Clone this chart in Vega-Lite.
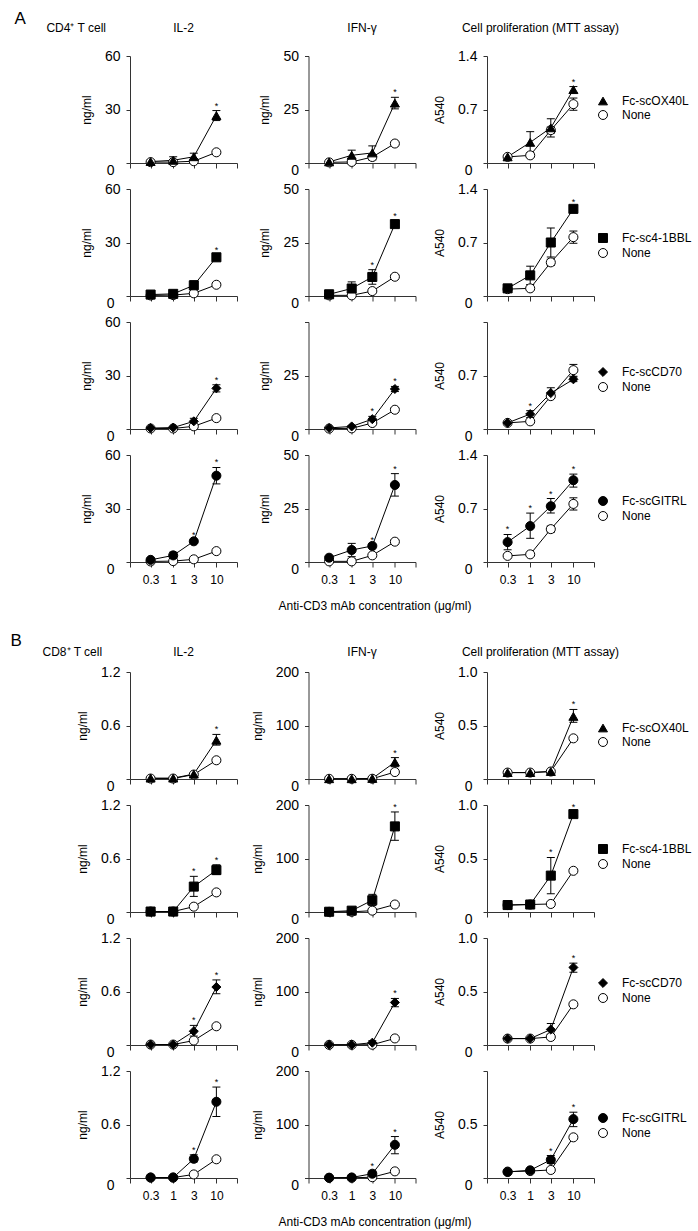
{
"$schema":"https://vega.github.io/schema/vega-lite/v6.json",
"background":"white",
"padding":{"left":10,"top":10,"right":5,"bottom":5},
"config":{
 "font":"Liberation Sans",
 "view":{"stroke":null},
 "axis":{"grid":false,"domainColor":"#333","tickColor":"#333","labelColor":"#000","titleColor":"#000","labelFont":"Liberation Sans","titleFont":"Liberation Sans","titleFontWeight":"normal","domainWidth":1,"tickWidth":1},
 "axisY":{"tickSize":4,"labelFontSize":14,"titleFontSize":12,"labelPadding":6,"titlePadding":11},
 "axisX":{"tickSize":5,"labelFontSize":12,"titleFontSize":12,"labelPadding":7,"titlePadding":15},
 "title":{"font":"Liberation Sans","fontWeight":"normal","fontSize":12,"color":"#000"},
 "legend":{"labelFont":"Liberation Sans","labelFontSize":12,"labelColor":"#000"},
 "point":{"size":82,"filled":true,"strokeWidth":1,"opacity":1},
 "text":{"fontSize":9,"dy":-2,"baseline":"alphabetic","fill":"black","text":"*"}
},
"datasets":{"d":[
{"sec":"A","assay":"IL2","lig":"OX40L","series":"None","conc":0.3,"mean":0.5,"lo":0.2,"hi":0.8},
{"sec":"A","assay":"IL2","lig":"OX40L","series":"None","conc":1,"mean":0.5,"lo":0.2,"hi":0.8},
{"sec":"A","assay":"IL2","lig":"OX40L","series":"None","conc":3,"mean":1,"lo":0.6,"hi":1.4},
{"sec":"A","assay":"IL2","lig":"OX40L","series":"None","conc":10,"mean":6,"lo":5.5,"hi":6.5},
{"sec":"A","assay":"IL2","lig":"OX40L","series":"Fc-scOX40L","conc":0.3,"mean":0.8,"lo":0.4,"hi":1.2},
{"sec":"A","assay":"IL2","lig":"OX40L","series":"Fc-scOX40L","conc":1,"mean":1.5,"lo":0,"hi":3.5},
{"sec":"A","assay":"IL2","lig":"OX40L","series":"Fc-scOX40L","conc":3,"mean":3.5,"lo":1.5,"hi":5.5},
{"sec":"A","assay":"IL2","lig":"OX40L","series":"Fc-scOX40L","conc":10,"mean":26.6,"lo":23.8,"hi":29.4,"sig":1},
{"sec":"A","assay":"IFN","lig":"OX40L","series":"None","conc":0.3,"mean":0.3,"lo":0,"hi":0.6},
{"sec":"A","assay":"IFN","lig":"OX40L","series":"None","conc":1,"mean":0.5,"lo":0,"hi":1},
{"sec":"A","assay":"IFN","lig":"OX40L","series":"None","conc":3,"mean":2.8,"lo":2.3,"hi":3.3},
{"sec":"A","assay":"IFN","lig":"OX40L","series":"None","conc":10,"mean":9.1,"lo":8,"hi":10.2},
{"sec":"A","assay":"IFN","lig":"OX40L","series":"Fc-scOX40L","conc":0.3,"mean":0.5,"lo":0.2,"hi":0.8},
{"sec":"A","assay":"IFN","lig":"OX40L","series":"Fc-scOX40L","conc":1,"mean":3.6,"lo":1.2,"hi":6},
{"sec":"A","assay":"IFN","lig":"OX40L","series":"Fc-scOX40L","conc":3,"mean":4.7,"lo":1.4,"hi":8},
{"sec":"A","assay":"IFN","lig":"OX40L","series":"Fc-scOX40L","conc":10,"mean":28,"lo":25.3,"hi":30.7,"sig":1},
{"sec":"A","assay":"MTT","lig":"OX40L","series":"None","conc":0.3,"mean":0.08,"lo":0.07,"hi":0.09},
{"sec":"A","assay":"MTT","lig":"OX40L","series":"None","conc":1,"mean":0.1,"lo":0.07,"hi":0.13},
{"sec":"A","assay":"MTT","lig":"OX40L","series":"None","conc":3,"mean":0.43,"lo":0.39,"hi":0.47},
{"sec":"A","assay":"MTT","lig":"OX40L","series":"None","conc":10,"mean":0.77,"lo":0.69,"hi":0.85},
{"sec":"A","assay":"MTT","lig":"OX40L","series":"Fc-scOX40L","conc":0.3,"mean":0.08,"lo":0.07,"hi":0.09},
{"sec":"A","assay":"MTT","lig":"OX40L","series":"Fc-scOX40L","conc":1,"mean":0.27,"lo":0.13,"hi":0.41},
{"sec":"A","assay":"MTT","lig":"OX40L","series":"Fc-scOX40L","conc":3,"mean":0.46,"lo":0.34,"hi":0.58},
{"sec":"A","assay":"MTT","lig":"OX40L","series":"Fc-scOX40L","conc":10,"mean":0.96,"lo":0.92,"hi":1.0,"sig":1},
{"sec":"A","assay":"IL2","lig":"41BB","series":"None","conc":0.3,"mean":0.3,"lo":0.1,"hi":0.5},
{"sec":"A","assay":"IL2","lig":"41BB","series":"None","conc":1,"mean":0.5,"lo":0.2,"hi":0.8},
{"sec":"A","assay":"IL2","lig":"41BB","series":"None","conc":3,"mean":1.5,"lo":1.2,"hi":1.8},
{"sec":"A","assay":"IL2","lig":"41BB","series":"None","conc":10,"mean":6.3,"lo":5.9,"hi":6.7},
{"sec":"A","assay":"IL2","lig":"41BB","series":"Fc-sc4-1BBL","conc":0.3,"mean":0.8,"lo":0.5,"hi":1.1},
{"sec":"A","assay":"IL2","lig":"41BB","series":"Fc-sc4-1BBL","conc":1,"mean":1.2,"lo":0.4,"hi":2},
{"sec":"A","assay":"IL2","lig":"41BB","series":"Fc-sc4-1BBL","conc":3,"mean":6,"lo":3.5,"hi":8.5},
{"sec":"A","assay":"IL2","lig":"41BB","series":"Fc-sc4-1BBL","conc":10,"mean":21.7,"lo":20.4,"hi":23,"sig":1},
{"sec":"A","assay":"IFN","lig":"41BB","series":"None","conc":0.3,"mean":0.3,"lo":0,"hi":0.6},
{"sec":"A","assay":"IFN","lig":"41BB","series":"None","conc":1,"mean":0.3,"lo":0,"hi":0.6},
{"sec":"A","assay":"IFN","lig":"41BB","series":"None","conc":3,"mean":2.3,"lo":1.9,"hi":2.7},
{"sec":"A","assay":"IFN","lig":"41BB","series":"None","conc":10,"mean":9,"lo":8,"hi":10},
{"sec":"A","assay":"IFN","lig":"41BB","series":"Fc-sc4-1BBL","conc":0.3,"mean":0.8,"lo":0.5,"hi":1.1},
{"sec":"A","assay":"IFN","lig":"41BB","series":"Fc-sc4-1BBL","conc":1,"mean":3.5,"lo":0.4,"hi":6.6},
{"sec":"A","assay":"IFN","lig":"41BB","series":"Fc-sc4-1BBL","conc":3,"mean":8.9,"lo":5.5,"hi":12.3,"sig":1},
{"sec":"A","assay":"IFN","lig":"41BB","series":"Fc-sc4-1BBL","conc":10,"mean":33.6,"lo":32.1,"hi":35.1,"sig":1},
{"sec":"A","assay":"MTT","lig":"41BB","series":"None","conc":0.3,"mean":0.09,"lo":0.08,"hi":0.1},
{"sec":"A","assay":"MTT","lig":"41BB","series":"None","conc":1,"mean":0.1,"lo":0.08,"hi":0.12},
{"sec":"A","assay":"MTT","lig":"41BB","series":"None","conc":3,"mean":0.44,"lo":0.4,"hi":0.48},
{"sec":"A","assay":"MTT","lig":"41BB","series":"None","conc":10,"mean":0.77,"lo":0.69,"hi":0.85},
{"sec":"A","assay":"MTT","lig":"41BB","series":"Fc-sc4-1BBL","conc":0.3,"mean":0.1,"lo":0.07,"hi":0.13},
{"sec":"A","assay":"MTT","lig":"41BB","series":"Fc-sc4-1BBL","conc":1,"mean":0.27,"lo":0.15,"hi":0.39},
{"sec":"A","assay":"MTT","lig":"41BB","series":"Fc-sc4-1BBL","conc":3,"mean":0.7,"lo":0.51,"hi":0.89},
{"sec":"A","assay":"MTT","lig":"41BB","series":"Fc-sc4-1BBL","conc":10,"mean":1.14,"lo":1.12,"hi":1.16,"sig":1},
{"sec":"A","assay":"IL2","lig":"CD70","series":"None","conc":0.3,"mean":0.3,"lo":0.1,"hi":0.5},
{"sec":"A","assay":"IL2","lig":"CD70","series":"None","conc":1,"mean":0.3,"lo":0.1,"hi":0.5},
{"sec":"A","assay":"IL2","lig":"CD70","series":"None","conc":3,"mean":1.5,"lo":1.2,"hi":1.8},
{"sec":"A","assay":"IL2","lig":"CD70","series":"None","conc":10,"mean":6.1,"lo":5.7,"hi":6.5},
{"sec":"A","assay":"IL2","lig":"CD70","series":"Fc-scCD70","conc":0.3,"mean":0.5,"lo":0.2,"hi":0.8},
{"sec":"A","assay":"IL2","lig":"CD70","series":"Fc-scCD70","conc":1,"mean":0.8,"lo":0.4,"hi":1.2},
{"sec":"A","assay":"IL2","lig":"CD70","series":"Fc-scCD70","conc":3,"mean":4.3,"lo":2.6,"hi":6},
{"sec":"A","assay":"IL2","lig":"CD70","series":"Fc-scCD70","conc":10,"mean":22.8,"lo":20.8,"hi":24.8,"sig":1},
{"sec":"A","assay":"IFN","lig":"CD70","series":"None","conc":0.3,"mean":0.2,"lo":0,"hi":0.4},
{"sec":"A","assay":"IFN","lig":"CD70","series":"None","conc":1,"mean":0.3,"lo":0,"hi":0.6},
{"sec":"A","assay":"IFN","lig":"CD70","series":"None","conc":3,"mean":2.8,"lo":2.4,"hi":3.2},
{"sec":"A","assay":"IFN","lig":"CD70","series":"None","conc":10,"mean":9,"lo":8,"hi":10},
{"sec":"A","assay":"IFN","lig":"CD70","series":"Fc-scCD70","conc":0.3,"mean":0.5,"lo":0.2,"hi":0.8},
{"sec":"A","assay":"IFN","lig":"CD70","series":"Fc-scCD70","conc":1,"mean":1.2,"lo":0.8,"hi":1.6},
{"sec":"A","assay":"IFN","lig":"CD70","series":"Fc-scCD70","conc":3,"mean":4.6,"lo":3.3,"hi":5.9,"sig":1},
{"sec":"A","assay":"IFN","lig":"CD70","series":"Fc-scCD70","conc":10,"mean":18.7,"lo":17.5,"hi":19.9,"sig":1},
{"sec":"A","assay":"MTT","lig":"CD70","series":"None","conc":0.3,"mean":0.08,"lo":0.07,"hi":0.09},
{"sec":"A","assay":"MTT","lig":"CD70","series":"None","conc":1,"mean":0.1,"lo":0.08,"hi":0.12},
{"sec":"A","assay":"MTT","lig":"CD70","series":"None","conc":3,"mean":0.43,"lo":0.4,"hi":0.46},
{"sec":"A","assay":"MTT","lig":"CD70","series":"None","conc":10,"mean":0.77,"lo":0.69,"hi":0.845},
{"sec":"A","assay":"MTT","lig":"CD70","series":"Fc-scCD70","conc":0.3,"mean":0.08,"lo":0.07,"hi":0.09},
{"sec":"A","assay":"MTT","lig":"CD70","series":"Fc-scCD70","conc":1,"mean":0.195,"lo":0.15,"hi":0.24,"sig":1},
{"sec":"A","assay":"MTT","lig":"CD70","series":"Fc-scCD70","conc":3,"mean":0.47,"lo":0.4,"hi":0.54},
{"sec":"A","assay":"MTT","lig":"CD70","series":"Fc-scCD70","conc":10,"mean":0.65,"lo":0.62,"hi":0.68},
{"sec":"A","assay":"IL2","lig":"GITRL","series":"None","conc":0.3,"mean":0.3,"lo":0.1,"hi":0.5},
{"sec":"A","assay":"IL2","lig":"GITRL","series":"None","conc":1,"mean":0.5,"lo":0.2,"hi":0.8},
{"sec":"A","assay":"IL2","lig":"GITRL","series":"None","conc":3,"mean":1.5,"lo":1.2,"hi":1.8},
{"sec":"A","assay":"IL2","lig":"GITRL","series":"None","conc":10,"mean":6.1,"lo":5.7,"hi":6.5},
{"sec":"A","assay":"IL2","lig":"GITRL","series":"Fc-scGITRL","conc":0.3,"mean":1.2,"lo":0.9,"hi":1.5},
{"sec":"A","assay":"IL2","lig":"GITRL","series":"Fc-scGITRL","conc":1,"mean":3.7,"lo":1.9,"hi":5.5},
{"sec":"A","assay":"IL2","lig":"GITRL","series":"Fc-scGITRL","conc":3,"mean":11.6,"lo":10.6,"hi":12.6,"sig":1},
{"sec":"A","assay":"IL2","lig":"GITRL","series":"Fc-scGITRL","conc":10,"mean":48.4,"lo":43.8,"hi":53,"sig":1},
{"sec":"A","assay":"IFN","lig":"GITRL","series":"None","conc":0.3,"mean":0.3,"lo":0,"hi":0.6},
{"sec":"A","assay":"IFN","lig":"GITRL","series":"None","conc":1,"mean":0.3,"lo":0,"hi":1.5},
{"sec":"A","assay":"IFN","lig":"GITRL","series":"None","conc":3,"mean":3.1,"lo":2.7,"hi":3.5},
{"sec":"A","assay":"IFN","lig":"GITRL","series":"None","conc":10,"mean":9.5,"lo":8.5,"hi":10.5},
{"sec":"A","assay":"IFN","lig":"GITRL","series":"Fc-scGITRL","conc":0.3,"mean":2,"lo":1.5,"hi":2.5},
{"sec":"A","assay":"IFN","lig":"GITRL","series":"Fc-scGITRL","conc":1,"mean":5.6,"lo":2.5,"hi":8.7},
{"sec":"A","assay":"IFN","lig":"GITRL","series":"Fc-scGITRL","conc":3,"mean":7.5,"lo":6.9,"hi":8.1,"sig":1},
{"sec":"A","assay":"IFN","lig":"GITRL","series":"Fc-scGITRL","conc":10,"mean":36,"lo":30.8,"hi":41.3,"sig":1},
{"sec":"A","assay":"MTT","lig":"GITRL","series":"None","conc":0.3,"mean":0.08,"lo":0.07,"hi":0.09},
{"sec":"A","assay":"MTT","lig":"GITRL","series":"None","conc":1,"mean":0.1,"lo":0.08,"hi":0.12},
{"sec":"A","assay":"MTT","lig":"GITRL","series":"None","conc":3,"mean":0.43,"lo":0.39,"hi":0.47},
{"sec":"A","assay":"MTT","lig":"GITRL","series":"None","conc":10,"mean":0.76,"lo":0.68,"hi":0.84},
{"sec":"A","assay":"MTT","lig":"GITRL","series":"Fc-scGITRL","conc":0.3,"mean":0.26,"lo":0.16,"hi":0.36,"sig":1},
{"sec":"A","assay":"MTT","lig":"GITRL","series":"Fc-scGITRL","conc":1,"mean":0.47,"lo":0.31,"hi":0.64,"sig":1},
{"sec":"A","assay":"MTT","lig":"GITRL","series":"Fc-scGITRL","conc":3,"mean":0.73,"lo":0.64,"hi":0.83,"sig":1},
{"sec":"A","assay":"MTT","lig":"GITRL","series":"Fc-scGITRL","conc":10,"mean":1.07,"lo":0.98,"hi":1.15,"sig":1},
{"sec":"B","assay":"IL2","lig":"OX40L","series":"None","conc":0.3,"mean":0.005,"lo":0,"hi":0.01},
{"sec":"B","assay":"IL2","lig":"OX40L","series":"None","conc":1,"mean":0.005,"lo":0,"hi":0.01},
{"sec":"B","assay":"IL2","lig":"OX40L","series":"None","conc":3,"mean":0.05,"lo":0.04,"hi":0.06},
{"sec":"B","assay":"IL2","lig":"OX40L","series":"None","conc":10,"mean":0.21,"lo":0.195,"hi":0.225},
{"sec":"B","assay":"IL2","lig":"OX40L","series":"Fc-scOX40L","conc":0.3,"mean":0.01,"lo":0,"hi":0.02},
{"sec":"B","assay":"IL2","lig":"OX40L","series":"Fc-scOX40L","conc":1,"mean":0.01,"lo":0,"hi":0.02},
{"sec":"B","assay":"IL2","lig":"OX40L","series":"Fc-scOX40L","conc":3,"mean":0.055,"lo":0.045,"hi":0.065},
{"sec":"B","assay":"IL2","lig":"OX40L","series":"Fc-scOX40L","conc":10,"mean":0.435,"lo":0.38,"hi":0.5,"sig":1},
{"sec":"B","assay":"IFN","lig":"OX40L","series":"None","conc":0.3,"mean":0.3,"lo":0,"hi":0.6},
{"sec":"B","assay":"IFN","lig":"OX40L","series":"None","conc":1,"mean":0.3,"lo":0,"hi":0.6},
{"sec":"B","assay":"IFN","lig":"OX40L","series":"None","conc":3,"mean":0.5,"lo":0,"hi":1},
{"sec":"B","assay":"IFN","lig":"OX40L","series":"None","conc":10,"mean":13,"lo":11.5,"hi":14.5},
{"sec":"B","assay":"IFN","lig":"OX40L","series":"Fc-scOX40L","conc":0.3,"mean":0.5,"lo":0,"hi":1},
{"sec":"B","assay":"IFN","lig":"OX40L","series":"Fc-scOX40L","conc":1,"mean":0.5,"lo":0,"hi":1},
{"sec":"B","assay":"IFN","lig":"OX40L","series":"Fc-scOX40L","conc":3,"mean":1,"lo":0,"hi":2},
{"sec":"B","assay":"IFN","lig":"OX40L","series":"Fc-scOX40L","conc":10,"mean":31.4,"lo":23,"hi":40,"sig":1},
{"sec":"B","assay":"MTT","lig":"OX40L","series":"None","conc":0.3,"mean":0.06,"lo":0.055,"hi":0.065},
{"sec":"B","assay":"MTT","lig":"OX40L","series":"None","conc":1,"mean":0.06,"lo":0.055,"hi":0.065},
{"sec":"B","assay":"MTT","lig":"OX40L","series":"None","conc":3,"mean":0.07,"lo":0.06,"hi":0.08},
{"sec":"B","assay":"MTT","lig":"OX40L","series":"None","conc":10,"mean":0.38,"lo":0.365,"hi":0.395},
{"sec":"B","assay":"MTT","lig":"OX40L","series":"Fc-scOX40L","conc":0.3,"mean":0.06,"lo":0.055,"hi":0.065},
{"sec":"B","assay":"MTT","lig":"OX40L","series":"Fc-scOX40L","conc":1,"mean":0.06,"lo":0.055,"hi":0.065},
{"sec":"B","assay":"MTT","lig":"OX40L","series":"Fc-scOX40L","conc":3,"mean":0.07,"lo":0.06,"hi":0.08},
{"sec":"B","assay":"MTT","lig":"OX40L","series":"Fc-scOX40L","conc":10,"mean":0.585,"lo":0.53,"hi":0.65,"sig":1},
{"sec":"B","assay":"IL2","lig":"41BB","series":"None","conc":0.3,"mean":0.005,"lo":0,"hi":0.01},
{"sec":"B","assay":"IL2","lig":"41BB","series":"None","conc":1,"mean":0.005,"lo":0,"hi":0.01},
{"sec":"B","assay":"IL2","lig":"41BB","series":"None","conc":3,"mean":0.06,"lo":0.05,"hi":0.07},
{"sec":"B","assay":"IL2","lig":"41BB","series":"None","conc":10,"mean":0.22,"lo":0.2,"hi":0.24},
{"sec":"B","assay":"IL2","lig":"41BB","series":"Fc-sc4-1BBL","conc":0.3,"mean":0.005,"lo":0,"hi":0.01},
{"sec":"B","assay":"IL2","lig":"41BB","series":"Fc-sc4-1BBL","conc":1,"mean":0.005,"lo":0,"hi":0.01},
{"sec":"B","assay":"IL2","lig":"41BB","series":"Fc-sc4-1BBL","conc":3,"mean":0.285,"lo":0.175,"hi":0.4,"sig":1},
{"sec":"B","assay":"IL2","lig":"41BB","series":"Fc-sc4-1BBL","conc":10,"mean":0.47,"lo":0.42,"hi":0.53,"sig":1},
{"sec":"B","assay":"IFN","lig":"41BB","series":"None","conc":0.3,"mean":0.3,"lo":0,"hi":0.6},
{"sec":"B","assay":"IFN","lig":"41BB","series":"None","conc":1,"mean":0.3,"lo":0,"hi":0.6},
{"sec":"B","assay":"IFN","lig":"41BB","series":"None","conc":3,"mean":2.5,"lo":1,"hi":4},
{"sec":"B","assay":"IFN","lig":"41BB","series":"None","conc":10,"mean":14,"lo":12.5,"hi":15.5},
{"sec":"B","assay":"IFN","lig":"41BB","series":"Fc-sc4-1BBL","conc":0.3,"mean":0.5,"lo":0,"hi":1},
{"sec":"B","assay":"IFN","lig":"41BB","series":"Fc-sc4-1BBL","conc":1,"mean":2.5,"lo":1.5,"hi":3.5},
{"sec":"B","assay":"IFN","lig":"41BB","series":"Fc-sc4-1BBL","conc":3,"mean":22,"lo":12,"hi":33},
{"sec":"B","assay":"IFN","lig":"41BB","series":"Fc-sc4-1BBL","conc":10,"mean":160,"lo":134,"hi":187,"sig":1},
{"sec":"B","assay":"MTT","lig":"41BB","series":"None","conc":0.3,"mean":0.065,"lo":0.06,"hi":0.07},
{"sec":"B","assay":"MTT","lig":"41BB","series":"None","conc":1,"mean":0.07,"lo":0.065,"hi":0.075},
{"sec":"B","assay":"MTT","lig":"41BB","series":"None","conc":3,"mean":0.075,"lo":0.07,"hi":0.08},
{"sec":"B","assay":"MTT","lig":"41BB","series":"None","conc":10,"mean":0.385,"lo":0.37,"hi":0.4},
{"sec":"B","assay":"MTT","lig":"41BB","series":"Fc-sc4-1BBL","conc":0.3,"mean":0.065,"lo":0.06,"hi":0.07},
{"sec":"B","assay":"MTT","lig":"41BB","series":"Fc-sc4-1BBL","conc":1,"mean":0.07,"lo":0.065,"hi":0.075},
{"sec":"B","assay":"MTT","lig":"41BB","series":"Fc-sc4-1BBL","conc":3,"mean":0.34,"lo":0.17,"hi":0.51,"sig":1},
{"sec":"B","assay":"MTT","lig":"41BB","series":"Fc-sc4-1BBL","conc":10,"mean":0.915,"lo":0.895,"hi":0.935,"sig":1},
{"sec":"B","assay":"IL2","lig":"CD70","series":"None","conc":0.3,"mean":0.005,"lo":0,"hi":0.01},
{"sec":"B","assay":"IL2","lig":"CD70","series":"None","conc":1,"mean":0.005,"lo":0,"hi":0.01},
{"sec":"B","assay":"IL2","lig":"CD70","series":"None","conc":3,"mean":0.05,"lo":0.04,"hi":0.06},
{"sec":"B","assay":"IL2","lig":"CD70","series":"None","conc":10,"mean":0.21,"lo":0.195,"hi":0.225},
{"sec":"B","assay":"IL2","lig":"CD70","series":"Fc-scCD70","conc":0.3,"mean":0.005,"lo":0,"hi":0.01},
{"sec":"B","assay":"IL2","lig":"CD70","series":"Fc-scCD70","conc":1,"mean":0.005,"lo":0,"hi":0.01},
{"sec":"B","assay":"IL2","lig":"CD70","series":"Fc-scCD70","conc":3,"mean":0.154,"lo":0.1,"hi":0.22,"sig":1},
{"sec":"B","assay":"IL2","lig":"CD70","series":"Fc-scCD70","conc":10,"mean":0.65,"lo":0.575,"hi":0.73,"sig":1},
{"sec":"B","assay":"IFN","lig":"CD70","series":"None","conc":0.3,"mean":0.3,"lo":0,"hi":0.6},
{"sec":"B","assay":"IFN","lig":"CD70","series":"None","conc":1,"mean":0.3,"lo":0,"hi":0.6},
{"sec":"B","assay":"IFN","lig":"CD70","series":"None","conc":3,"mean":0.5,"lo":0,"hi":1},
{"sec":"B","assay":"IFN","lig":"CD70","series":"None","conc":10,"mean":12.3,"lo":11.3,"hi":13.3},
{"sec":"B","assay":"IFN","lig":"CD70","series":"Fc-scCD70","conc":0.3,"mean":0.5,"lo":0,"hi":1},
{"sec":"B","assay":"IFN","lig":"CD70","series":"Fc-scCD70","conc":1,"mean":0.5,"lo":0,"hi":1},
{"sec":"B","assay":"IFN","lig":"CD70","series":"Fc-scCD70","conc":3,"mean":4.3,"lo":1,"hi":8},
{"sec":"B","assay":"IFN","lig":"CD70","series":"Fc-scCD70","conc":10,"mean":79.5,"lo":71.5,"hi":87,"sig":1},
{"sec":"B","assay":"MTT","lig":"CD70","series":"None","conc":0.3,"mean":0.06,"lo":0.055,"hi":0.065},
{"sec":"B","assay":"MTT","lig":"CD70","series":"None","conc":1,"mean":0.06,"lo":0.055,"hi":0.065},
{"sec":"B","assay":"MTT","lig":"CD70","series":"None","conc":3,"mean":0.075,"lo":0.07,"hi":0.08},
{"sec":"B","assay":"MTT","lig":"CD70","series":"None","conc":10,"mean":0.38,"lo":0.365,"hi":0.395},
{"sec":"B","assay":"MTT","lig":"CD70","series":"Fc-scCD70","conc":0.3,"mean":0.06,"lo":0.055,"hi":0.065},
{"sec":"B","assay":"MTT","lig":"CD70","series":"Fc-scCD70","conc":1,"mean":0.06,"lo":0.055,"hi":0.065},
{"sec":"B","assay":"MTT","lig":"CD70","series":"Fc-scCD70","conc":3,"mean":0.145,"lo":0.1,"hi":0.2},
{"sec":"B","assay":"MTT","lig":"CD70","series":"Fc-scCD70","conc":10,"mean":0.725,"lo":0.68,"hi":0.765,"sig":1},
{"sec":"B","assay":"IL2","lig":"GITRL","series":"None","conc":0.3,"mean":0.005,"lo":0,"hi":0.01},
{"sec":"B","assay":"IL2","lig":"GITRL","series":"None","conc":1,"mean":0.005,"lo":0,"hi":0.01},
{"sec":"B","assay":"IL2","lig":"GITRL","series":"None","conc":3,"mean":0.04,"lo":0.03,"hi":0.05},
{"sec":"B","assay":"IL2","lig":"GITRL","series":"None","conc":10,"mean":0.21,"lo":0.195,"hi":0.225},
{"sec":"B","assay":"IL2","lig":"GITRL","series":"Fc-scGITRL","conc":0.3,"mean":0.005,"lo":0,"hi":0.01},
{"sec":"B","assay":"IL2","lig":"GITRL","series":"Fc-scGITRL","conc":1,"mean":0.005,"lo":0,"hi":0.01},
{"sec":"B","assay":"IL2","lig":"GITRL","series":"Fc-scGITRL","conc":3,"mean":0.215,"lo":0.18,"hi":0.26,"sig":1},
{"sec":"B","assay":"IL2","lig":"GITRL","series":"Fc-scGITRL","conc":10,"mean":0.855,"lo":0.69,"hi":1.02,"sig":1},
{"sec":"B","assay":"IFN","lig":"GITRL","series":"None","conc":0.3,"mean":0.3,"lo":0,"hi":0.6},
{"sec":"B","assay":"IFN","lig":"GITRL","series":"None","conc":1,"mean":0.3,"lo":0,"hi":0.6},
{"sec":"B","assay":"IFN","lig":"GITRL","series":"None","conc":3,"mean":1.5,"lo":0.5,"hi":2.5},
{"sec":"B","assay":"IFN","lig":"GITRL","series":"None","conc":10,"mean":12.4,"lo":11.4,"hi":13.4},
{"sec":"B","assay":"IFN","lig":"GITRL","series":"Fc-scGITRL","conc":0.3,"mean":0.5,"lo":0,"hi":1},
{"sec":"B","assay":"IFN","lig":"GITRL","series":"Fc-scGITRL","conc":1,"mean":1,"lo":0,"hi":2},
{"sec":"B","assay":"IFN","lig":"GITRL","series":"Fc-scGITRL","conc":3,"mean":8,"lo":3,"hi":13,"sig":1},
{"sec":"B","assay":"IFN","lig":"GITRL","series":"Fc-scGITRL","conc":10,"mean":62,"lo":45.3,"hi":77.5,"sig":1},
{"sec":"B","assay":"MTT","lig":"GITRL","series":"None","conc":0.3,"mean":0.06,"lo":0.055,"hi":0.065},
{"sec":"B","assay":"MTT","lig":"GITRL","series":"None","conc":1,"mean":0.065,"lo":0.06,"hi":0.07},
{"sec":"B","assay":"MTT","lig":"GITRL","series":"None","conc":3,"mean":0.075,"lo":0.07,"hi":0.08},
{"sec":"B","assay":"MTT","lig":"GITRL","series":"None","conc":10,"mean":0.38,"lo":0.365,"hi":0.395},
{"sec":"B","assay":"MTT","lig":"GITRL","series":"Fc-scGITRL","conc":0.3,"mean":0.056,"lo":0.05,"hi":0.062},
{"sec":"B","assay":"MTT","lig":"GITRL","series":"Fc-scGITRL","conc":1,"mean":0.072,"lo":0.066,"hi":0.078},
{"sec":"B","assay":"MTT","lig":"GITRL","series":"Fc-scGITRL","conc":3,"mean":0.17,"lo":0.135,"hi":0.21,"sig":1},
{"sec":"B","assay":"MTT","lig":"GITRL","series":"Fc-scGITRL","conc":10,"mean":0.55,"lo":0.48,"hi":0.615,"sig":1}
]},
"data":{"name":"d"},
"spacing":21,
"resolve":{"scale":{"y":"independent","shape":"independent","fill":"independent","stroke":"independent"},"axis":{"y":"independent","x":"independent"},"legend":{"shape":"independent","fill":"independent","stroke":"independent"}},
"vconcat":[
{"title":{"text":"A","anchor":"start","frame":"bounds","fontSize":17,"offset":-6,"dx":-32},
 "resolve":{"scale":{"y":"independent","shape":"independent","fill":"independent","stroke":"independent"},"axis":{"y":"independent","x":"independent"},"legend":{"shape":"independent","fill":"independent","stroke":"independent"}},
 "vconcat":[{
  "title":{"text":"CD4⁺ T cell","anchor":"start","frame":"bounds","offset":-13,"dx":-34},
  "columns":3,"spacing":{"row":26,"column":71.5},"bounds":"flush",
  "resolve":{"scale":{"y":"independent","shape":"independent","fill":"independent","stroke":"independent"},"axis":{"y":"independent","x":"independent"},"legend":{"shape":"independent","fill":"independent","stroke":"independent"}},
  "concat":[
{"width":107,"height":107,"title":{"text":"IL-2","frame":"group","offset":14},"transform":[{"filter":"datum.sec=='A'&&datum.assay=='IL2'&&datum.lig=='OX40L'"}],
"encoding":{"x":{"field":"conc","type":"quantitative","scale":{"type":"log","domain":[0.1,30],"nice":false},"axis":{"values":[0.1,0.3,1,3,10,30],"labels":false,"title":null}},
"y":{"field":"mean","type":"quantitative","scale":{"domain":[0,60],"nice":false},"axis":{"title":"ng/ml","values":[0,30,60],"labelExpr":"datum.value==0?'0':format(datum.value,'d')","labelOffset":{"condition":{"test":"datum.value===0","value":7},"value":0},"labelPadding":{"condition":{"test":"datum.value===0","value":12},"value":6}}}},
"layer":[
{"mark":{"type":"line","color":"black","strokeWidth":1},"encoding":{"detail":{"field":"series"}}},
{"mark":{"type":"rule","color":"black","strokeWidth":1},"encoding":{"y":{"field":"lo","type":"quantitative","scale":{"domain":[0,60],"nice":false},"title":"ng/ml"},"y2":{"field":"hi"}}},
{"mark":{"type":"tick","orient":"horizontal","color":"black","size":8,"thickness":1,"opacity":1},"encoding":{"y":{"field":"hi","type":"quantitative","scale":{"domain":[0,60],"nice":false},"title":"ng/ml"}}},
{"mark":{"type":"tick","orient":"horizontal","color":"black","size":8,"thickness":1,"opacity":1},"encoding":{"y":{"field":"lo","type":"quantitative","scale":{"domain":[0,60],"nice":false},"title":"ng/ml"}}},
{"mark":{"type":"point"},"encoding":{"shape":{"field":"series","type":"nominal","scale":{"domain":["Fc-scOX40L","None"],"range":["triangle-up","circle"]},"legend":null},"fill":{"field":"series","type":"nominal","scale":{"domain":["Fc-scOX40L","None"],"range":["black","white"]},"legend":null},"stroke":{"field":"series","type":"nominal","scale":{"domain":["Fc-scOX40L","None"],"range":["black","black"]},"legend":null}}},
{"transform":[{"filter":"datum.sig==1"}],"mark":{"type":"text"},"encoding":{"y":{"field":"hi","type":"quantitative","scale":{"domain":[0,60],"nice":false},"title":"ng/ml"}}}
]},
{"width":107,"height":107,"title":{"text":"IFN-γ","frame":"group","offset":14},"transform":[{"filter":"datum.sec=='A'&&datum.assay=='IFN'&&datum.lig=='OX40L'"}],
"encoding":{"x":{"field":"conc","type":"quantitative","scale":{"type":"log","domain":[0.1,30],"nice":false},"axis":{"values":[0.1,0.3,1,3,10,30],"labels":false,"title":null}},
"y":{"field":"mean","type":"quantitative","scale":{"domain":[0,50],"nice":false},"axis":{"title":"ng/ml","values":[0,25,50],"labelExpr":"datum.value==0?'0':format(datum.value,'d')","labelOffset":{"condition":{"test":"datum.value===0","value":7},"value":0}}}},
"layer":[
{"mark":{"type":"line","color":"black","strokeWidth":1},"encoding":{"detail":{"field":"series"}}},
{"mark":{"type":"rule","color":"black","strokeWidth":1},"encoding":{"y":{"field":"lo","type":"quantitative","scale":{"domain":[0,50],"nice":false},"title":"ng/ml"},"y2":{"field":"hi"}}},
{"mark":{"type":"tick","orient":"horizontal","color":"black","size":8,"thickness":1,"opacity":1},"encoding":{"y":{"field":"hi","type":"quantitative","scale":{"domain":[0,50],"nice":false},"title":"ng/ml"}}},
{"mark":{"type":"tick","orient":"horizontal","color":"black","size":8,"thickness":1,"opacity":1},"encoding":{"y":{"field":"lo","type":"quantitative","scale":{"domain":[0,50],"nice":false},"title":"ng/ml"}}},
{"mark":{"type":"point"},"encoding":{"shape":{"field":"series","type":"nominal","scale":{"domain":["Fc-scOX40L","None"],"range":["triangle-up","circle"]},"legend":null},"fill":{"field":"series","type":"nominal","scale":{"domain":["Fc-scOX40L","None"],"range":["black","white"]},"legend":null},"stroke":{"field":"series","type":"nominal","scale":{"domain":["Fc-scOX40L","None"],"range":["black","black"]},"legend":null}}},
{"transform":[{"filter":"datum.sig==1"}],"mark":{"type":"text"},"encoding":{"y":{"field":"hi","type":"quantitative","scale":{"domain":[0,50],"nice":false},"title":"ng/ml"}}}
]},
{"width":107,"height":107,"title":{"text":"Cell proliferation (MTT assay)","frame":"group","offset":14},"transform":[{"filter":"datum.sec=='A'&&datum.assay=='MTT'&&datum.lig=='OX40L'"}],
"encoding":{"x":{"field":"conc","type":"quantitative","scale":{"type":"log","domain":[0.1,30],"nice":false},"axis":{"values":[0.1,0.3,1,3,10,30],"labels":false,"title":null}},
"y":{"field":"mean","type":"quantitative","scale":{"domain":[0,1.4],"nice":false},"axis":{"title":"A540","values":[0,0.7,1.4],"labelExpr":"datum.value==0?'0':format(datum.value,'.1f')","labelOffset":{"condition":{"test":"datum.value===0","value":7},"value":0},"labelPadding":{"condition":{"test":"datum.value===0","value":11},"value":6}}}},
"layer":[
{"mark":{"type":"line","color":"black","strokeWidth":1},"encoding":{"detail":{"field":"series"}}},
{"mark":{"type":"rule","color":"black","strokeWidth":1},"encoding":{"y":{"field":"lo","type":"quantitative","scale":{"domain":[0,1.4],"nice":false},"title":"A540"},"y2":{"field":"hi"}}},
{"mark":{"type":"tick","orient":"horizontal","color":"black","size":8,"thickness":1,"opacity":1},"encoding":{"y":{"field":"hi","type":"quantitative","scale":{"domain":[0,1.4],"nice":false},"title":"A540"}}},
{"mark":{"type":"tick","orient":"horizontal","color":"black","size":8,"thickness":1,"opacity":1},"encoding":{"y":{"field":"lo","type":"quantitative","scale":{"domain":[0,1.4],"nice":false},"title":"A540"}}},
{"mark":{"type":"point"},"encoding":{"shape":{"field":"series","type":"nominal","scale":{"domain":["Fc-scOX40L","None"],"range":["triangle-up","circle"]},"legend":{"orient":"none","legendX":110,"legendY":39,"title":null,"symbolSize":80,"rowPadding":1,"labelOffset":13}},"fill":{"field":"series","type":"nominal","scale":{"domain":["Fc-scOX40L","None"],"range":["black","white"]},"legend":{"orient":"none","legendX":110,"legendY":39,"title":null,"symbolSize":80,"rowPadding":1,"labelOffset":13}},"stroke":{"field":"series","type":"nominal","scale":{"domain":["Fc-scOX40L","None"],"range":["black","black"]},"legend":{"orient":"none","legendX":110,"legendY":39,"title":null,"symbolSize":80,"rowPadding":1,"labelOffset":13}}}},
{"transform":[{"filter":"datum.sig==1"}],"mark":{"type":"text"},"encoding":{"y":{"field":"hi","type":"quantitative","scale":{"domain":[0,1.4],"nice":false},"title":"A540"}}}
]},
{"width":107,"height":107,"transform":[{"filter":"datum.sec=='A'&&datum.assay=='IL2'&&datum.lig=='41BB'"}],
"encoding":{"x":{"field":"conc","type":"quantitative","scale":{"type":"log","domain":[0.1,30],"nice":false},"axis":{"values":[0.1,0.3,1,3,10,30],"labels":false,"title":null}},
"y":{"field":"mean","type":"quantitative","scale":{"domain":[0,60],"nice":false},"axis":{"title":"ng/ml","values":[0,30,60],"labelExpr":"datum.value==0?'0':format(datum.value,'d')","labelOffset":{"condition":{"test":"datum.value===0","value":7},"value":0},"labelPadding":{"condition":{"test":"datum.value===0","value":12},"value":6}}}},
"layer":[
{"mark":{"type":"line","color":"black","strokeWidth":1},"encoding":{"detail":{"field":"series"}}},
{"mark":{"type":"rule","color":"black","strokeWidth":1},"encoding":{"y":{"field":"lo","type":"quantitative","scale":{"domain":[0,60],"nice":false},"title":"ng/ml"},"y2":{"field":"hi"}}},
{"mark":{"type":"tick","orient":"horizontal","color":"black","size":8,"thickness":1,"opacity":1},"encoding":{"y":{"field":"hi","type":"quantitative","scale":{"domain":[0,60],"nice":false},"title":"ng/ml"}}},
{"mark":{"type":"tick","orient":"horizontal","color":"black","size":8,"thickness":1,"opacity":1},"encoding":{"y":{"field":"lo","type":"quantitative","scale":{"domain":[0,60],"nice":false},"title":"ng/ml"}}},
{"mark":{"type":"point"},"encoding":{"shape":{"field":"series","type":"nominal","scale":{"domain":["Fc-sc4-1BBL","None"],"range":["square","circle"]},"legend":null},"fill":{"field":"series","type":"nominal","scale":{"domain":["Fc-sc4-1BBL","None"],"range":["black","white"]},"legend":null},"stroke":{"field":"series","type":"nominal","scale":{"domain":["Fc-sc4-1BBL","None"],"range":["black","black"]},"legend":null}}},
{"transform":[{"filter":"datum.sig==1"}],"mark":{"type":"text"},"encoding":{"y":{"field":"hi","type":"quantitative","scale":{"domain":[0,60],"nice":false},"title":"ng/ml"}}}
]},
{"width":107,"height":107,"transform":[{"filter":"datum.sec=='A'&&datum.assay=='IFN'&&datum.lig=='41BB'"}],
"encoding":{"x":{"field":"conc","type":"quantitative","scale":{"type":"log","domain":[0.1,30],"nice":false},"axis":{"values":[0.1,0.3,1,3,10,30],"labels":false,"title":null}},
"y":{"field":"mean","type":"quantitative","scale":{"domain":[0,50],"nice":false},"axis":{"title":"ng/ml","values":[0,25,50],"labelExpr":"datum.value==0?'0':format(datum.value,'d')","labelOffset":{"condition":{"test":"datum.value===0","value":7},"value":0}}}},
"layer":[
{"mark":{"type":"line","color":"black","strokeWidth":1},"encoding":{"detail":{"field":"series"}}},
{"mark":{"type":"rule","color":"black","strokeWidth":1},"encoding":{"y":{"field":"lo","type":"quantitative","scale":{"domain":[0,50],"nice":false},"title":"ng/ml"},"y2":{"field":"hi"}}},
{"mark":{"type":"tick","orient":"horizontal","color":"black","size":8,"thickness":1,"opacity":1},"encoding":{"y":{"field":"hi","type":"quantitative","scale":{"domain":[0,50],"nice":false},"title":"ng/ml"}}},
{"mark":{"type":"tick","orient":"horizontal","color":"black","size":8,"thickness":1,"opacity":1},"encoding":{"y":{"field":"lo","type":"quantitative","scale":{"domain":[0,50],"nice":false},"title":"ng/ml"}}},
{"mark":{"type":"point"},"encoding":{"shape":{"field":"series","type":"nominal","scale":{"domain":["Fc-sc4-1BBL","None"],"range":["square","circle"]},"legend":null},"fill":{"field":"series","type":"nominal","scale":{"domain":["Fc-sc4-1BBL","None"],"range":["black","white"]},"legend":null},"stroke":{"field":"series","type":"nominal","scale":{"domain":["Fc-sc4-1BBL","None"],"range":["black","black"]},"legend":null}}},
{"transform":[{"filter":"datum.sig==1"}],"mark":{"type":"text"},"encoding":{"y":{"field":"hi","type":"quantitative","scale":{"domain":[0,50],"nice":false},"title":"ng/ml"}}}
]},
{"width":107,"height":107,"transform":[{"filter":"datum.sec=='A'&&datum.assay=='MTT'&&datum.lig=='41BB'"}],
"encoding":{"x":{"field":"conc","type":"quantitative","scale":{"type":"log","domain":[0.1,30],"nice":false},"axis":{"values":[0.1,0.3,1,3,10,30],"labels":false,"title":null}},
"y":{"field":"mean","type":"quantitative","scale":{"domain":[0,1.4],"nice":false},"axis":{"title":"A540","values":[0,0.7,1.4],"labelExpr":"datum.value==0?'0':format(datum.value,'.1f')","labelOffset":{"condition":{"test":"datum.value===0","value":7},"value":0},"labelPadding":{"condition":{"test":"datum.value===0","value":11},"value":6}}}},
"layer":[
{"mark":{"type":"line","color":"black","strokeWidth":1},"encoding":{"detail":{"field":"series"}}},
{"mark":{"type":"rule","color":"black","strokeWidth":1},"encoding":{"y":{"field":"lo","type":"quantitative","scale":{"domain":[0,1.4],"nice":false},"title":"A540"},"y2":{"field":"hi"}}},
{"mark":{"type":"tick","orient":"horizontal","color":"black","size":8,"thickness":1,"opacity":1},"encoding":{"y":{"field":"hi","type":"quantitative","scale":{"domain":[0,1.4],"nice":false},"title":"A540"}}},
{"mark":{"type":"tick","orient":"horizontal","color":"black","size":8,"thickness":1,"opacity":1},"encoding":{"y":{"field":"lo","type":"quantitative","scale":{"domain":[0,1.4],"nice":false},"title":"A540"}}},
{"mark":{"type":"point"},"encoding":{"shape":{"field":"series","type":"nominal","scale":{"domain":["Fc-sc4-1BBL","None"],"range":["square","circle"]},"legend":{"orient":"none","legendX":110,"legendY":43,"title":null,"symbolSize":80,"rowPadding":1,"labelOffset":13}},"fill":{"field":"series","type":"nominal","scale":{"domain":["Fc-sc4-1BBL","None"],"range":["black","white"]},"legend":{"orient":"none","legendX":110,"legendY":43,"title":null,"symbolSize":80,"rowPadding":1,"labelOffset":13}},"stroke":{"field":"series","type":"nominal","scale":{"domain":["Fc-sc4-1BBL","None"],"range":["black","black"]},"legend":{"orient":"none","legendX":110,"legendY":43,"title":null,"symbolSize":80,"rowPadding":1,"labelOffset":13}}}},
{"transform":[{"filter":"datum.sig==1"}],"mark":{"type":"text"},"encoding":{"y":{"field":"hi","type":"quantitative","scale":{"domain":[0,1.4],"nice":false},"title":"A540"}}}
]},
{"width":107,"height":107,"transform":[{"filter":"datum.sec=='A'&&datum.assay=='IL2'&&datum.lig=='CD70'"}],
"encoding":{"x":{"field":"conc","type":"quantitative","scale":{"type":"log","domain":[0.1,30],"nice":false},"axis":{"values":[0.1,0.3,1,3,10,30],"labels":false,"title":null}},
"y":{"field":"mean","type":"quantitative","scale":{"domain":[0,60],"nice":false},"axis":{"title":"ng/ml","values":[0,30,60],"labelExpr":"datum.value==0?'0':format(datum.value,'d')","labelOffset":{"condition":{"test":"datum.value===0","value":7},"value":0},"labelPadding":{"condition":{"test":"datum.value===0","value":12},"value":6}}}},
"layer":[
{"mark":{"type":"line","color":"black","strokeWidth":1},"encoding":{"detail":{"field":"series"}}},
{"mark":{"type":"rule","color":"black","strokeWidth":1},"encoding":{"y":{"field":"lo","type":"quantitative","scale":{"domain":[0,60],"nice":false},"title":"ng/ml"},"y2":{"field":"hi"}}},
{"mark":{"type":"tick","orient":"horizontal","color":"black","size":8,"thickness":1,"opacity":1},"encoding":{"y":{"field":"hi","type":"quantitative","scale":{"domain":[0,60],"nice":false},"title":"ng/ml"}}},
{"mark":{"type":"tick","orient":"horizontal","color":"black","size":8,"thickness":1,"opacity":1},"encoding":{"y":{"field":"lo","type":"quantitative","scale":{"domain":[0,60],"nice":false},"title":"ng/ml"}}},
{"mark":{"type":"point"},"encoding":{"shape":{"field":"series","type":"nominal","scale":{"domain":["Fc-scCD70","None"],"range":["diamond","circle"]},"legend":null},"fill":{"field":"series","type":"nominal","scale":{"domain":["Fc-scCD70","None"],"range":["black","white"]},"legend":null},"stroke":{"field":"series","type":"nominal","scale":{"domain":["Fc-scCD70","None"],"range":["black","black"]},"legend":null}}},
{"transform":[{"filter":"datum.sig==1"}],"mark":{"type":"text"},"encoding":{"y":{"field":"hi","type":"quantitative","scale":{"domain":[0,60],"nice":false},"title":"ng/ml"}}}
]},
{"width":107,"height":107,"transform":[{"filter":"datum.sec=='A'&&datum.assay=='IFN'&&datum.lig=='CD70'"}],
"encoding":{"x":{"field":"conc","type":"quantitative","scale":{"type":"log","domain":[0.1,30],"nice":false},"axis":{"values":[0.1,0.3,1,3,10,30],"labels":false,"title":null}},
"y":{"field":"mean","type":"quantitative","scale":{"domain":[0,50],"nice":false},"axis":{"title":"ng/ml","values":[0,25,50],"labelExpr":"datum.value==0?'0':datum.value>40?'':format(datum.value,'d')","labelOffset":{"condition":{"test":"datum.value===0","value":7},"value":0}}}},
"layer":[
{"mark":{"type":"line","color":"black","strokeWidth":1},"encoding":{"detail":{"field":"series"}}},
{"mark":{"type":"rule","color":"black","strokeWidth":1},"encoding":{"y":{"field":"lo","type":"quantitative","scale":{"domain":[0,50],"nice":false},"title":"ng/ml"},"y2":{"field":"hi"}}},
{"mark":{"type":"tick","orient":"horizontal","color":"black","size":8,"thickness":1,"opacity":1},"encoding":{"y":{"field":"hi","type":"quantitative","scale":{"domain":[0,50],"nice":false},"title":"ng/ml"}}},
{"mark":{"type":"tick","orient":"horizontal","color":"black","size":8,"thickness":1,"opacity":1},"encoding":{"y":{"field":"lo","type":"quantitative","scale":{"domain":[0,50],"nice":false},"title":"ng/ml"}}},
{"mark":{"type":"point"},"encoding":{"shape":{"field":"series","type":"nominal","scale":{"domain":["Fc-scCD70","None"],"range":["diamond","circle"]},"legend":null},"fill":{"field":"series","type":"nominal","scale":{"domain":["Fc-scCD70","None"],"range":["black","white"]},"legend":null},"stroke":{"field":"series","type":"nominal","scale":{"domain":["Fc-scCD70","None"],"range":["black","black"]},"legend":null}}},
{"transform":[{"filter":"datum.sig==1"}],"mark":{"type":"text"},"encoding":{"y":{"field":"hi","type":"quantitative","scale":{"domain":[0,50],"nice":false},"title":"ng/ml"}}}
]},
{"width":107,"height":107,"transform":[{"filter":"datum.sec=='A'&&datum.assay=='MTT'&&datum.lig=='CD70'"}],
"encoding":{"x":{"field":"conc","type":"quantitative","scale":{"type":"log","domain":[0.1,30],"nice":false},"axis":{"values":[0.1,0.3,1,3,10,30],"labels":false,"title":null}},
"y":{"field":"mean","type":"quantitative","scale":{"domain":[0,1.4],"nice":false},"axis":{"title":"A540","values":[0,0.7,1.4],"labelExpr":"datum.value==0?'0':datum.value>1?'':format(datum.value,'.1f')","labelOffset":{"condition":{"test":"datum.value===0","value":7},"value":0},"labelPadding":{"condition":{"test":"datum.value===0","value":11},"value":6}}}},
"layer":[
{"mark":{"type":"line","color":"black","strokeWidth":1},"encoding":{"detail":{"field":"series"}}},
{"mark":{"type":"rule","color":"black","strokeWidth":1},"encoding":{"y":{"field":"lo","type":"quantitative","scale":{"domain":[0,1.4],"nice":false},"title":"A540"},"y2":{"field":"hi"}}},
{"mark":{"type":"tick","orient":"horizontal","color":"black","size":8,"thickness":1,"opacity":1},"encoding":{"y":{"field":"hi","type":"quantitative","scale":{"domain":[0,1.4],"nice":false},"title":"A540"}}},
{"mark":{"type":"tick","orient":"horizontal","color":"black","size":8,"thickness":1,"opacity":1},"encoding":{"y":{"field":"lo","type":"quantitative","scale":{"domain":[0,1.4],"nice":false},"title":"A540"}}},
{"mark":{"type":"point"},"encoding":{"shape":{"field":"series","type":"nominal","scale":{"domain":["Fc-scCD70","None"],"range":["diamond","circle"]},"legend":{"orient":"none","legendX":110,"legendY":44,"title":null,"symbolSize":80,"rowPadding":1,"labelOffset":13}},"fill":{"field":"series","type":"nominal","scale":{"domain":["Fc-scCD70","None"],"range":["black","white"]},"legend":{"orient":"none","legendX":110,"legendY":44,"title":null,"symbolSize":80,"rowPadding":1,"labelOffset":13}},"stroke":{"field":"series","type":"nominal","scale":{"domain":["Fc-scCD70","None"],"range":["black","black"]},"legend":{"orient":"none","legendX":110,"legendY":44,"title":null,"symbolSize":80,"rowPadding":1,"labelOffset":13}}}},
{"transform":[{"filter":"datum.sig==1"}],"mark":{"type":"text"},"encoding":{"y":{"field":"hi","type":"quantitative","scale":{"domain":[0,1.4],"nice":false},"title":"A540"}}}
]},
{"width":107,"height":107,"transform":[{"filter":"datum.sec=='A'&&datum.assay=='IL2'&&datum.lig=='GITRL'"}],
"encoding":{"x":{"field":"conc","type":"quantitative","scale":{"type":"log","domain":[0.1,30],"nice":false},"axis":{"values":[0.1,0.3,1,3,10,30],"labelExpr":"datum.value==0.3?'0.3':(datum.value>=1&&datum.value<=10?format(datum.value,'d'):'')","title":null}},
"y":{"field":"mean","type":"quantitative","scale":{"domain":[0,60],"nice":false},"axis":{"title":"ng/ml","values":[0,30,60],"labelExpr":"datum.value==0?'0':format(datum.value,'d')","labelOffset":{"condition":{"test":"datum.value===0","value":7},"value":0},"labelPadding":{"condition":{"test":"datum.value===0","value":12},"value":6}}}},
"layer":[
{"mark":{"type":"line","color":"black","strokeWidth":1},"encoding":{"detail":{"field":"series"}}},
{"mark":{"type":"rule","color":"black","strokeWidth":1},"encoding":{"y":{"field":"lo","type":"quantitative","scale":{"domain":[0,60],"nice":false},"title":"ng/ml"},"y2":{"field":"hi"}}},
{"mark":{"type":"tick","orient":"horizontal","color":"black","size":8,"thickness":1,"opacity":1},"encoding":{"y":{"field":"hi","type":"quantitative","scale":{"domain":[0,60],"nice":false},"title":"ng/ml"}}},
{"mark":{"type":"tick","orient":"horizontal","color":"black","size":8,"thickness":1,"opacity":1},"encoding":{"y":{"field":"lo","type":"quantitative","scale":{"domain":[0,60],"nice":false},"title":"ng/ml"}}},
{"mark":{"type":"point"},"encoding":{"shape":{"field":"series","type":"nominal","scale":{"domain":["Fc-scGITRL","None"],"range":["circle","circle"]},"legend":null},"fill":{"field":"series","type":"nominal","scale":{"domain":["Fc-scGITRL","None"],"range":["black","white"]},"legend":null},"stroke":{"field":"series","type":"nominal","scale":{"domain":["Fc-scGITRL","None"],"range":["black","black"]},"legend":null}}},
{"transform":[{"filter":"datum.sig==1"}],"mark":{"type":"text"},"encoding":{"y":{"field":"hi","type":"quantitative","scale":{"domain":[0,60],"nice":false},"title":"ng/ml"}}}
]},
{"width":107,"height":107,"transform":[{"filter":"datum.sec=='A'&&datum.assay=='IFN'&&datum.lig=='GITRL'"}],
"encoding":{"x":{"field":"conc","type":"quantitative","scale":{"type":"log","domain":[0.1,30],"nice":false},"axis":{"values":[0.1,0.3,1,3,10,30],"labelExpr":"datum.value==0.3?'0.3':(datum.value>=1&&datum.value<=10?format(datum.value,'d'):'')","title":"Anti-CD3 mAb  concentration (μg/ml)","titleX":66}},
"y":{"field":"mean","type":"quantitative","scale":{"domain":[0,50],"nice":false},"axis":{"title":"ng/ml","values":[0,25,50],"labelExpr":"datum.value==0?'0':format(datum.value,'d')","labelOffset":{"condition":{"test":"datum.value===0","value":7},"value":0}}}},
"layer":[
{"mark":{"type":"line","color":"black","strokeWidth":1},"encoding":{"detail":{"field":"series"}}},
{"mark":{"type":"rule","color":"black","strokeWidth":1},"encoding":{"y":{"field":"lo","type":"quantitative","scale":{"domain":[0,50],"nice":false},"title":"ng/ml"},"y2":{"field":"hi"}}},
{"mark":{"type":"tick","orient":"horizontal","color":"black","size":8,"thickness":1,"opacity":1},"encoding":{"y":{"field":"hi","type":"quantitative","scale":{"domain":[0,50],"nice":false},"title":"ng/ml"}}},
{"mark":{"type":"tick","orient":"horizontal","color":"black","size":8,"thickness":1,"opacity":1},"encoding":{"y":{"field":"lo","type":"quantitative","scale":{"domain":[0,50],"nice":false},"title":"ng/ml"}}},
{"mark":{"type":"point"},"encoding":{"shape":{"field":"series","type":"nominal","scale":{"domain":["Fc-scGITRL","None"],"range":["circle","circle"]},"legend":null},"fill":{"field":"series","type":"nominal","scale":{"domain":["Fc-scGITRL","None"],"range":["black","white"]},"legend":null},"stroke":{"field":"series","type":"nominal","scale":{"domain":["Fc-scGITRL","None"],"range":["black","black"]},"legend":null}}},
{"transform":[{"filter":"datum.sig==1"}],"mark":{"type":"text"},"encoding":{"y":{"field":"hi","type":"quantitative","scale":{"domain":[0,50],"nice":false},"title":"ng/ml"}}}
]},
{"width":107,"height":107,"transform":[{"filter":"datum.sec=='A'&&datum.assay=='MTT'&&datum.lig=='GITRL'"}],
"encoding":{"x":{"field":"conc","type":"quantitative","scale":{"type":"log","domain":[0.1,30],"nice":false},"axis":{"values":[0.1,0.3,1,3,10,30],"labelExpr":"datum.value==0.3?'0.3':(datum.value>=1&&datum.value<=10?format(datum.value,'d'):'')","title":null}},
"y":{"field":"mean","type":"quantitative","scale":{"domain":[0,1.4],"nice":false},"axis":{"title":"A540","values":[0,0.7,1.4],"labelExpr":"datum.value==0?'0':format(datum.value,'.1f')","labelOffset":{"condition":{"test":"datum.value===0","value":7},"value":0},"labelPadding":{"condition":{"test":"datum.value===0","value":11},"value":6}}}},
"layer":[
{"mark":{"type":"line","color":"black","strokeWidth":1},"encoding":{"detail":{"field":"series"}}},
{"mark":{"type":"rule","color":"black","strokeWidth":1},"encoding":{"y":{"field":"lo","type":"quantitative","scale":{"domain":[0,1.4],"nice":false},"title":"A540"},"y2":{"field":"hi"}}},
{"mark":{"type":"tick","orient":"horizontal","color":"black","size":8,"thickness":1,"opacity":1},"encoding":{"y":{"field":"hi","type":"quantitative","scale":{"domain":[0,1.4],"nice":false},"title":"A540"}}},
{"mark":{"type":"tick","orient":"horizontal","color":"black","size":8,"thickness":1,"opacity":1},"encoding":{"y":{"field":"lo","type":"quantitative","scale":{"domain":[0,1.4],"nice":false},"title":"A540"}}},
{"mark":{"type":"point"},"encoding":{"shape":{"field":"series","type":"nominal","scale":{"domain":["Fc-scGITRL","None"],"range":["circle","circle"]},"legend":{"orient":"none","legendX":110,"legendY":40,"title":null,"symbolSize":80,"rowPadding":1,"labelOffset":13}},"fill":{"field":"series","type":"nominal","scale":{"domain":["Fc-scGITRL","None"],"range":["black","white"]},"legend":{"orient":"none","legendX":110,"legendY":40,"title":null,"symbolSize":80,"rowPadding":1,"labelOffset":13}},"stroke":{"field":"series","type":"nominal","scale":{"domain":["Fc-scGITRL","None"],"range":["black","black"]},"legend":{"orient":"none","legendX":110,"legendY":40,"title":null,"symbolSize":80,"rowPadding":1,"labelOffset":13}}}},
{"transform":[{"filter":"datum.sig==1"}],"mark":{"type":"text"},"encoding":{"y":{"field":"hi","type":"quantitative","scale":{"domain":[0,1.4],"nice":false},"title":"A540"}}}
]}
  ]
 }]
},
{"title":{"text":"B","anchor":"start","frame":"bounds","fontSize":17,"offset":-4,"dx":-32},
 "resolve":{"scale":{"y":"independent","shape":"independent","fill":"independent","stroke":"independent"},"axis":{"y":"independent","x":"independent"},"legend":{"shape":"independent","fill":"independent","stroke":"independent"}},
 "vconcat":[{
  "title":{"text":"CD8⁺ T cell","anchor":"start","frame":"bounds","offset":-13,"dx":-34},
  "columns":3,"spacing":{"row":26,"column":71.5},"bounds":"flush",
  "resolve":{"scale":{"y":"independent","shape":"independent","fill":"independent","stroke":"independent"},"axis":{"y":"independent","x":"independent"},"legend":{"shape":"independent","fill":"independent","stroke":"independent"}},
  "concat":[
{"width":107,"height":107,"title":{"text":"IL-2","frame":"group","offset":6},"transform":[{"filter":"datum.sec=='B'&&datum.assay=='IL2'&&datum.lig=='OX40L'"}],
"encoding":{"x":{"field":"conc","type":"quantitative","scale":{"type":"log","domain":[0.1,30],"nice":false},"axis":{"values":[0.1,0.3,1,3,10,30],"labels":false,"title":null}},
"y":{"field":"mean","type":"quantitative","scale":{"domain":[0,1.2],"nice":false},"axis":{"title":"ng/ml","values":[0,0.6,1.2],"labelExpr":"datum.value==0?'0':format(datum.value,'.1f')","labelOffset":{"condition":{"test":"datum.value===0","value":7},"value":0},"labelPadding":{"condition":{"test":"datum.value===0","value":12},"value":6}}}},
"layer":[
{"mark":{"type":"line","color":"black","strokeWidth":1},"encoding":{"detail":{"field":"series"}}},
{"mark":{"type":"rule","color":"black","strokeWidth":1},"encoding":{"y":{"field":"lo","type":"quantitative","scale":{"domain":[0,1.2],"nice":false},"title":"ng/ml"},"y2":{"field":"hi"}}},
{"mark":{"type":"tick","orient":"horizontal","color":"black","size":8,"thickness":1,"opacity":1},"encoding":{"y":{"field":"hi","type":"quantitative","scale":{"domain":[0,1.2],"nice":false},"title":"ng/ml"}}},
{"mark":{"type":"tick","orient":"horizontal","color":"black","size":8,"thickness":1,"opacity":1},"encoding":{"y":{"field":"lo","type":"quantitative","scale":{"domain":[0,1.2],"nice":false},"title":"ng/ml"}}},
{"mark":{"type":"point"},"encoding":{"shape":{"field":"series","type":"nominal","scale":{"domain":["Fc-scOX40L","None"],"range":["triangle-up","circle"]},"legend":null},"fill":{"field":"series","type":"nominal","scale":{"domain":["Fc-scOX40L","None"],"range":["black","white"]},"legend":null},"stroke":{"field":"series","type":"nominal","scale":{"domain":["Fc-scOX40L","None"],"range":["black","black"]},"legend":null}}},
{"transform":[{"filter":"datum.sig==1"}],"mark":{"type":"text"},"encoding":{"y":{"field":"hi","type":"quantitative","scale":{"domain":[0,1.2],"nice":false},"title":"ng/ml"}}}
]},
{"width":107,"height":107,"title":{"text":"IFN-γ","frame":"group","offset":6},"transform":[{"filter":"datum.sec=='B'&&datum.assay=='IFN'&&datum.lig=='OX40L'"}],
"encoding":{"x":{"field":"conc","type":"quantitative","scale":{"type":"log","domain":[0.1,30],"nice":false},"axis":{"values":[0.1,0.3,1,3,10,30],"labels":false,"title":null}},
"y":{"field":"mean","type":"quantitative","scale":{"domain":[0,200],"nice":false},"axis":{"title":"ng/ml","values":[0,100,200],"labelExpr":"datum.value==0?'0':format(datum.value,'d')","labelOffset":{"condition":{"test":"datum.value===0","value":7},"value":0}}}},
"layer":[
{"mark":{"type":"line","color":"black","strokeWidth":1},"encoding":{"detail":{"field":"series"}}},
{"mark":{"type":"rule","color":"black","strokeWidth":1},"encoding":{"y":{"field":"lo","type":"quantitative","scale":{"domain":[0,200],"nice":false},"title":"ng/ml"},"y2":{"field":"hi"}}},
{"mark":{"type":"tick","orient":"horizontal","color":"black","size":8,"thickness":1,"opacity":1},"encoding":{"y":{"field":"hi","type":"quantitative","scale":{"domain":[0,200],"nice":false},"title":"ng/ml"}}},
{"mark":{"type":"tick","orient":"horizontal","color":"black","size":8,"thickness":1,"opacity":1},"encoding":{"y":{"field":"lo","type":"quantitative","scale":{"domain":[0,200],"nice":false},"title":"ng/ml"}}},
{"mark":{"type":"point"},"encoding":{"shape":{"field":"series","type":"nominal","scale":{"domain":["Fc-scOX40L","None"],"range":["triangle-up","circle"]},"legend":null},"fill":{"field":"series","type":"nominal","scale":{"domain":["Fc-scOX40L","None"],"range":["black","white"]},"legend":null},"stroke":{"field":"series","type":"nominal","scale":{"domain":["Fc-scOX40L","None"],"range":["black","black"]},"legend":null}}},
{"transform":[{"filter":"datum.sig==1"}],"mark":{"type":"text"},"encoding":{"y":{"field":"hi","type":"quantitative","scale":{"domain":[0,200],"nice":false},"title":"ng/ml"}}}
]},
{"width":107,"height":107,"title":{"text":"Cell proliferation (MTT assay)","frame":"group","offset":6},"transform":[{"filter":"datum.sec=='B'&&datum.assay=='MTT'&&datum.lig=='OX40L'"}],
"encoding":{"x":{"field":"conc","type":"quantitative","scale":{"type":"log","domain":[0.1,30],"nice":false},"axis":{"values":[0.1,0.3,1,3,10,30],"labels":false,"title":null}},
"y":{"field":"mean","type":"quantitative","scale":{"domain":[0,1],"nice":false},"axis":{"title":"A540","values":[0,0.5,1],"labelExpr":"datum.value==0?'0':format(datum.value,'.1f')","labelOffset":{"condition":{"test":"datum.value===0","value":7},"value":0},"labelPadding":{"condition":{"test":"datum.value===0","value":11},"value":6}}}},
"layer":[
{"mark":{"type":"line","color":"black","strokeWidth":1},"encoding":{"detail":{"field":"series"}}},
{"mark":{"type":"rule","color":"black","strokeWidth":1},"encoding":{"y":{"field":"lo","type":"quantitative","scale":{"domain":[0,1],"nice":false},"title":"A540"},"y2":{"field":"hi"}}},
{"mark":{"type":"tick","orient":"horizontal","color":"black","size":8,"thickness":1,"opacity":1},"encoding":{"y":{"field":"hi","type":"quantitative","scale":{"domain":[0,1],"nice":false},"title":"A540"}}},
{"mark":{"type":"tick","orient":"horizontal","color":"black","size":8,"thickness":1,"opacity":1},"encoding":{"y":{"field":"lo","type":"quantitative","scale":{"domain":[0,1],"nice":false},"title":"A540"}}},
{"mark":{"type":"point"},"encoding":{"shape":{"field":"series","type":"nominal","scale":{"domain":["Fc-scOX40L","None"],"range":["triangle-up","circle"]},"legend":{"orient":"none","legendX":110,"legendY":50,"title":null,"symbolSize":80,"rowPadding":1,"labelOffset":13}},"fill":{"field":"series","type":"nominal","scale":{"domain":["Fc-scOX40L","None"],"range":["black","white"]},"legend":{"orient":"none","legendX":110,"legendY":50,"title":null,"symbolSize":80,"rowPadding":1,"labelOffset":13}},"stroke":{"field":"series","type":"nominal","scale":{"domain":["Fc-scOX40L","None"],"range":["black","black"]},"legend":{"orient":"none","legendX":110,"legendY":50,"title":null,"symbolSize":80,"rowPadding":1,"labelOffset":13}}}},
{"transform":[{"filter":"datum.sig==1"}],"mark":{"type":"text"},"encoding":{"y":{"field":"hi","type":"quantitative","scale":{"domain":[0,1],"nice":false},"title":"A540"}}}
]},
{"width":107,"height":107,"transform":[{"filter":"datum.sec=='B'&&datum.assay=='IL2'&&datum.lig=='41BB'"}],
"encoding":{"x":{"field":"conc","type":"quantitative","scale":{"type":"log","domain":[0.1,30],"nice":false},"axis":{"values":[0.1,0.3,1,3,10,30],"labels":false,"title":null}},
"y":{"field":"mean","type":"quantitative","scale":{"domain":[0,1.2],"nice":false},"axis":{"title":"ng/ml","values":[0,0.6,1.2],"labelExpr":"datum.value==0?'0':format(datum.value,'.1f')","labelOffset":{"condition":{"test":"datum.value===0","value":7},"value":0},"labelPadding":{"condition":{"test":"datum.value===0","value":12},"value":6}}}},
"layer":[
{"mark":{"type":"line","color":"black","strokeWidth":1},"encoding":{"detail":{"field":"series"}}},
{"mark":{"type":"rule","color":"black","strokeWidth":1},"encoding":{"y":{"field":"lo","type":"quantitative","scale":{"domain":[0,1.2],"nice":false},"title":"ng/ml"},"y2":{"field":"hi"}}},
{"mark":{"type":"tick","orient":"horizontal","color":"black","size":8,"thickness":1,"opacity":1},"encoding":{"y":{"field":"hi","type":"quantitative","scale":{"domain":[0,1.2],"nice":false},"title":"ng/ml"}}},
{"mark":{"type":"tick","orient":"horizontal","color":"black","size":8,"thickness":1,"opacity":1},"encoding":{"y":{"field":"lo","type":"quantitative","scale":{"domain":[0,1.2],"nice":false},"title":"ng/ml"}}},
{"mark":{"type":"point"},"encoding":{"shape":{"field":"series","type":"nominal","scale":{"domain":["Fc-sc4-1BBL","None"],"range":["square","circle"]},"legend":null},"fill":{"field":"series","type":"nominal","scale":{"domain":["Fc-sc4-1BBL","None"],"range":["black","white"]},"legend":null},"stroke":{"field":"series","type":"nominal","scale":{"domain":["Fc-sc4-1BBL","None"],"range":["black","black"]},"legend":null}}},
{"transform":[{"filter":"datum.sig==1"}],"mark":{"type":"text"},"encoding":{"y":{"field":"hi","type":"quantitative","scale":{"domain":[0,1.2],"nice":false},"title":"ng/ml"}}}
]},
{"width":107,"height":107,"transform":[{"filter":"datum.sec=='B'&&datum.assay=='IFN'&&datum.lig=='41BB'"}],
"encoding":{"x":{"field":"conc","type":"quantitative","scale":{"type":"log","domain":[0.1,30],"nice":false},"axis":{"values":[0.1,0.3,1,3,10,30],"labels":false,"title":null}},
"y":{"field":"mean","type":"quantitative","scale":{"domain":[0,200],"nice":false},"axis":{"title":"ng/ml","values":[0,100,200],"labelExpr":"datum.value==0?'0':format(datum.value,'d')","labelOffset":{"condition":{"test":"datum.value===0","value":7},"value":0}}}},
"layer":[
{"mark":{"type":"line","color":"black","strokeWidth":1},"encoding":{"detail":{"field":"series"}}},
{"mark":{"type":"rule","color":"black","strokeWidth":1},"encoding":{"y":{"field":"lo","type":"quantitative","scale":{"domain":[0,200],"nice":false},"title":"ng/ml"},"y2":{"field":"hi"}}},
{"mark":{"type":"tick","orient":"horizontal","color":"black","size":8,"thickness":1,"opacity":1},"encoding":{"y":{"field":"hi","type":"quantitative","scale":{"domain":[0,200],"nice":false},"title":"ng/ml"}}},
{"mark":{"type":"tick","orient":"horizontal","color":"black","size":8,"thickness":1,"opacity":1},"encoding":{"y":{"field":"lo","type":"quantitative","scale":{"domain":[0,200],"nice":false},"title":"ng/ml"}}},
{"mark":{"type":"point"},"encoding":{"shape":{"field":"series","type":"nominal","scale":{"domain":["Fc-sc4-1BBL","None"],"range":["square","circle"]},"legend":null},"fill":{"field":"series","type":"nominal","scale":{"domain":["Fc-sc4-1BBL","None"],"range":["black","white"]},"legend":null},"stroke":{"field":"series","type":"nominal","scale":{"domain":["Fc-sc4-1BBL","None"],"range":["black","black"]},"legend":null}}},
{"transform":[{"filter":"datum.sig==1"}],"mark":{"type":"text"},"encoding":{"y":{"field":"hi","type":"quantitative","scale":{"domain":[0,200],"nice":false},"title":"ng/ml"}}}
]},
{"width":107,"height":107,"transform":[{"filter":"datum.sec=='B'&&datum.assay=='MTT'&&datum.lig=='41BB'"}],
"encoding":{"x":{"field":"conc","type":"quantitative","scale":{"type":"log","domain":[0.1,30],"nice":false},"axis":{"values":[0.1,0.3,1,3,10,30],"labels":false,"title":null}},
"y":{"field":"mean","type":"quantitative","scale":{"domain":[0,1],"nice":false},"axis":{"title":"A540","values":[0,0.5,1],"labelExpr":"datum.value==0?'0':format(datum.value,'.1f')","labelOffset":{"condition":{"test":"datum.value===0","value":7},"value":0},"labelPadding":{"condition":{"test":"datum.value===0","value":11},"value":6}}}},
"layer":[
{"mark":{"type":"line","color":"black","strokeWidth":1},"encoding":{"detail":{"field":"series"}}},
{"mark":{"type":"rule","color":"black","strokeWidth":1},"encoding":{"y":{"field":"lo","type":"quantitative","scale":{"domain":[0,1],"nice":false},"title":"A540"},"y2":{"field":"hi"}}},
{"mark":{"type":"tick","orient":"horizontal","color":"black","size":8,"thickness":1,"opacity":1},"encoding":{"y":{"field":"hi","type":"quantitative","scale":{"domain":[0,1],"nice":false},"title":"A540"}}},
{"mark":{"type":"tick","orient":"horizontal","color":"black","size":8,"thickness":1,"opacity":1},"encoding":{"y":{"field":"lo","type":"quantitative","scale":{"domain":[0,1],"nice":false},"title":"A540"}}},
{"mark":{"type":"point"},"encoding":{"shape":{"field":"series","type":"nominal","scale":{"domain":["Fc-sc4-1BBL","None"],"range":["square","circle"]},"legend":{"orient":"none","legendX":110,"legendY":38,"title":null,"symbolSize":80,"rowPadding":1,"labelOffset":13}},"fill":{"field":"series","type":"nominal","scale":{"domain":["Fc-sc4-1BBL","None"],"range":["black","white"]},"legend":{"orient":"none","legendX":110,"legendY":38,"title":null,"symbolSize":80,"rowPadding":1,"labelOffset":13}},"stroke":{"field":"series","type":"nominal","scale":{"domain":["Fc-sc4-1BBL","None"],"range":["black","black"]},"legend":{"orient":"none","legendX":110,"legendY":38,"title":null,"symbolSize":80,"rowPadding":1,"labelOffset":13}}}},
{"transform":[{"filter":"datum.sig==1"}],"mark":{"type":"text"},"encoding":{"y":{"field":"hi","type":"quantitative","scale":{"domain":[0,1],"nice":false},"title":"A540"}}}
]},
{"width":107,"height":107,"transform":[{"filter":"datum.sec=='B'&&datum.assay=='IL2'&&datum.lig=='CD70'"}],
"encoding":{"x":{"field":"conc","type":"quantitative","scale":{"type":"log","domain":[0.1,30],"nice":false},"axis":{"values":[0.1,0.3,1,3,10,30],"labels":false,"title":null}},
"y":{"field":"mean","type":"quantitative","scale":{"domain":[0,1.2],"nice":false},"axis":{"title":"ng/ml","values":[0,0.6,1.2],"labelExpr":"datum.value==0?'0':format(datum.value,'.1f')","labelOffset":{"condition":{"test":"datum.value===0","value":7},"value":0},"labelPadding":{"condition":{"test":"datum.value===0","value":12},"value":6}}}},
"layer":[
{"mark":{"type":"line","color":"black","strokeWidth":1},"encoding":{"detail":{"field":"series"}}},
{"mark":{"type":"rule","color":"black","strokeWidth":1},"encoding":{"y":{"field":"lo","type":"quantitative","scale":{"domain":[0,1.2],"nice":false},"title":"ng/ml"},"y2":{"field":"hi"}}},
{"mark":{"type":"tick","orient":"horizontal","color":"black","size":8,"thickness":1,"opacity":1},"encoding":{"y":{"field":"hi","type":"quantitative","scale":{"domain":[0,1.2],"nice":false},"title":"ng/ml"}}},
{"mark":{"type":"tick","orient":"horizontal","color":"black","size":8,"thickness":1,"opacity":1},"encoding":{"y":{"field":"lo","type":"quantitative","scale":{"domain":[0,1.2],"nice":false},"title":"ng/ml"}}},
{"mark":{"type":"point"},"encoding":{"shape":{"field":"series","type":"nominal","scale":{"domain":["Fc-scCD70","None"],"range":["diamond","circle"]},"legend":null},"fill":{"field":"series","type":"nominal","scale":{"domain":["Fc-scCD70","None"],"range":["black","white"]},"legend":null},"stroke":{"field":"series","type":"nominal","scale":{"domain":["Fc-scCD70","None"],"range":["black","black"]},"legend":null}}},
{"transform":[{"filter":"datum.sig==1"}],"mark":{"type":"text"},"encoding":{"y":{"field":"hi","type":"quantitative","scale":{"domain":[0,1.2],"nice":false},"title":"ng/ml"}}}
]},
{"width":107,"height":107,"transform":[{"filter":"datum.sec=='B'&&datum.assay=='IFN'&&datum.lig=='CD70'"}],
"encoding":{"x":{"field":"conc","type":"quantitative","scale":{"type":"log","domain":[0.1,30],"nice":false},"axis":{"values":[0.1,0.3,1,3,10,30],"labels":false,"title":null}},
"y":{"field":"mean","type":"quantitative","scale":{"domain":[0,200],"nice":false},"axis":{"title":"ng/ml","values":[0,100,200],"labelExpr":"datum.value==0?'0':format(datum.value,'d')","labelOffset":{"condition":{"test":"datum.value===0","value":7},"value":0}}}},
"layer":[
{"mark":{"type":"line","color":"black","strokeWidth":1},"encoding":{"detail":{"field":"series"}}},
{"mark":{"type":"rule","color":"black","strokeWidth":1},"encoding":{"y":{"field":"lo","type":"quantitative","scale":{"domain":[0,200],"nice":false},"title":"ng/ml"},"y2":{"field":"hi"}}},
{"mark":{"type":"tick","orient":"horizontal","color":"black","size":8,"thickness":1,"opacity":1},"encoding":{"y":{"field":"hi","type":"quantitative","scale":{"domain":[0,200],"nice":false},"title":"ng/ml"}}},
{"mark":{"type":"tick","orient":"horizontal","color":"black","size":8,"thickness":1,"opacity":1},"encoding":{"y":{"field":"lo","type":"quantitative","scale":{"domain":[0,200],"nice":false},"title":"ng/ml"}}},
{"mark":{"type":"point"},"encoding":{"shape":{"field":"series","type":"nominal","scale":{"domain":["Fc-scCD70","None"],"range":["diamond","circle"]},"legend":null},"fill":{"field":"series","type":"nominal","scale":{"domain":["Fc-scCD70","None"],"range":["black","white"]},"legend":null},"stroke":{"field":"series","type":"nominal","scale":{"domain":["Fc-scCD70","None"],"range":["black","black"]},"legend":null}}},
{"transform":[{"filter":"datum.sig==1"}],"mark":{"type":"text"},"encoding":{"y":{"field":"hi","type":"quantitative","scale":{"domain":[0,200],"nice":false},"title":"ng/ml"}}}
]},
{"width":107,"height":107,"transform":[{"filter":"datum.sec=='B'&&datum.assay=='MTT'&&datum.lig=='CD70'"}],
"encoding":{"x":{"field":"conc","type":"quantitative","scale":{"type":"log","domain":[0.1,30],"nice":false},"axis":{"values":[0.1,0.3,1,3,10,30],"labels":false,"title":null}},
"y":{"field":"mean","type":"quantitative","scale":{"domain":[0,1],"nice":false},"axis":{"title":"A540","values":[0,0.5,1],"labelExpr":"datum.value==0?'0':format(datum.value,'.1f')","labelOffset":{"condition":{"test":"datum.value===0","value":7},"value":0},"labelPadding":{"condition":{"test":"datum.value===0","value":11},"value":6}}}},
"layer":[
{"mark":{"type":"line","color":"black","strokeWidth":1},"encoding":{"detail":{"field":"series"}}},
{"mark":{"type":"rule","color":"black","strokeWidth":1},"encoding":{"y":{"field":"lo","type":"quantitative","scale":{"domain":[0,1],"nice":false},"title":"A540"},"y2":{"field":"hi"}}},
{"mark":{"type":"tick","orient":"horizontal","color":"black","size":8,"thickness":1,"opacity":1},"encoding":{"y":{"field":"hi","type":"quantitative","scale":{"domain":[0,1],"nice":false},"title":"A540"}}},
{"mark":{"type":"tick","orient":"horizontal","color":"black","size":8,"thickness":1,"opacity":1},"encoding":{"y":{"field":"lo","type":"quantitative","scale":{"domain":[0,1],"nice":false},"title":"A540"}}},
{"mark":{"type":"point"},"encoding":{"shape":{"field":"series","type":"nominal","scale":{"domain":["Fc-scCD70","None"],"range":["diamond","circle"]},"legend":{"orient":"none","legendX":110,"legendY":39,"title":null,"symbolSize":80,"rowPadding":1,"labelOffset":13}},"fill":{"field":"series","type":"nominal","scale":{"domain":["Fc-scCD70","None"],"range":["black","white"]},"legend":{"orient":"none","legendX":110,"legendY":39,"title":null,"symbolSize":80,"rowPadding":1,"labelOffset":13}},"stroke":{"field":"series","type":"nominal","scale":{"domain":["Fc-scCD70","None"],"range":["black","black"]},"legend":{"orient":"none","legendX":110,"legendY":39,"title":null,"symbolSize":80,"rowPadding":1,"labelOffset":13}}}},
{"transform":[{"filter":"datum.sig==1"}],"mark":{"type":"text"},"encoding":{"y":{"field":"hi","type":"quantitative","scale":{"domain":[0,1],"nice":false},"title":"A540"}}}
]},
{"width":107,"height":107,"transform":[{"filter":"datum.sec=='B'&&datum.assay=='IL2'&&datum.lig=='GITRL'"}],
"encoding":{"x":{"field":"conc","type":"quantitative","scale":{"type":"log","domain":[0.1,30],"nice":false},"axis":{"values":[0.1,0.3,1,3,10,30],"labelExpr":"datum.value==0.3?'0.3':(datum.value>=1&&datum.value<=10?format(datum.value,'d'):'')","title":null}},
"y":{"field":"mean","type":"quantitative","scale":{"domain":[0,1.2],"nice":false},"axis":{"title":"ng/ml","values":[0,0.6,1.2],"labelExpr":"datum.value==0?'0':format(datum.value,'.1f')","labelOffset":{"condition":{"test":"datum.value===0","value":7},"value":0},"labelPadding":{"condition":{"test":"datum.value===0","value":12},"value":6}}}},
"layer":[
{"mark":{"type":"line","color":"black","strokeWidth":1},"encoding":{"detail":{"field":"series"}}},
{"mark":{"type":"rule","color":"black","strokeWidth":1},"encoding":{"y":{"field":"lo","type":"quantitative","scale":{"domain":[0,1.2],"nice":false},"title":"ng/ml"},"y2":{"field":"hi"}}},
{"mark":{"type":"tick","orient":"horizontal","color":"black","size":8,"thickness":1,"opacity":1},"encoding":{"y":{"field":"hi","type":"quantitative","scale":{"domain":[0,1.2],"nice":false},"title":"ng/ml"}}},
{"mark":{"type":"tick","orient":"horizontal","color":"black","size":8,"thickness":1,"opacity":1},"encoding":{"y":{"field":"lo","type":"quantitative","scale":{"domain":[0,1.2],"nice":false},"title":"ng/ml"}}},
{"mark":{"type":"point"},"encoding":{"shape":{"field":"series","type":"nominal","scale":{"domain":["Fc-scGITRL","None"],"range":["circle","circle"]},"legend":null},"fill":{"field":"series","type":"nominal","scale":{"domain":["Fc-scGITRL","None"],"range":["black","white"]},"legend":null},"stroke":{"field":"series","type":"nominal","scale":{"domain":["Fc-scGITRL","None"],"range":["black","black"]},"legend":null}}},
{"transform":[{"filter":"datum.sig==1"}],"mark":{"type":"text"},"encoding":{"y":{"field":"hi","type":"quantitative","scale":{"domain":[0,1.2],"nice":false},"title":"ng/ml"}}}
]},
{"width":107,"height":107,"transform":[{"filter":"datum.sec=='B'&&datum.assay=='IFN'&&datum.lig=='GITRL'"}],
"encoding":{"x":{"field":"conc","type":"quantitative","scale":{"type":"log","domain":[0.1,30],"nice":false},"axis":{"values":[0.1,0.3,1,3,10,30],"labelExpr":"datum.value==0.3?'0.3':(datum.value>=1&&datum.value<=10?format(datum.value,'d'):'')","title":"Anti-CD3 mAb  concentration (μg/ml)","titleX":66}},
"y":{"field":"mean","type":"quantitative","scale":{"domain":[0,200],"nice":false},"axis":{"title":"ng/ml","values":[0,100,200],"labelExpr":"datum.value==0?'0':format(datum.value,'d')","labelOffset":{"condition":{"test":"datum.value===0","value":7},"value":0}}}},
"layer":[
{"mark":{"type":"line","color":"black","strokeWidth":1},"encoding":{"detail":{"field":"series"}}},
{"mark":{"type":"rule","color":"black","strokeWidth":1},"encoding":{"y":{"field":"lo","type":"quantitative","scale":{"domain":[0,200],"nice":false},"title":"ng/ml"},"y2":{"field":"hi"}}},
{"mark":{"type":"tick","orient":"horizontal","color":"black","size":8,"thickness":1,"opacity":1},"encoding":{"y":{"field":"hi","type":"quantitative","scale":{"domain":[0,200],"nice":false},"title":"ng/ml"}}},
{"mark":{"type":"tick","orient":"horizontal","color":"black","size":8,"thickness":1,"opacity":1},"encoding":{"y":{"field":"lo","type":"quantitative","scale":{"domain":[0,200],"nice":false},"title":"ng/ml"}}},
{"mark":{"type":"point"},"encoding":{"shape":{"field":"series","type":"nominal","scale":{"domain":["Fc-scGITRL","None"],"range":["circle","circle"]},"legend":null},"fill":{"field":"series","type":"nominal","scale":{"domain":["Fc-scGITRL","None"],"range":["black","white"]},"legend":null},"stroke":{"field":"series","type":"nominal","scale":{"domain":["Fc-scGITRL","None"],"range":["black","black"]},"legend":null}}},
{"transform":[{"filter":"datum.sig==1"}],"mark":{"type":"text"},"encoding":{"y":{"field":"hi","type":"quantitative","scale":{"domain":[0,200],"nice":false},"title":"ng/ml"}}}
]},
{"width":107,"height":107,"transform":[{"filter":"datum.sec=='B'&&datum.assay=='MTT'&&datum.lig=='GITRL'"}],
"encoding":{"x":{"field":"conc","type":"quantitative","scale":{"type":"log","domain":[0.1,30],"nice":false},"axis":{"values":[0.1,0.3,1,3,10,30],"labelExpr":"datum.value==0.3?'0.3':(datum.value>=1&&datum.value<=10?format(datum.value,'d'):'')","title":null}},
"y":{"field":"mean","type":"quantitative","scale":{"domain":[0,1],"nice":false},"axis":{"title":"A540","values":[0,0.5,1],"labelExpr":"datum.value==0?'0':datum.value>0.9?'':format(datum.value,'.1f')","labelOffset":{"condition":{"test":"datum.value===0","value":7},"value":0},"labelPadding":{"condition":{"test":"datum.value===0","value":11},"value":6}}}},
"layer":[
{"mark":{"type":"line","color":"black","strokeWidth":1},"encoding":{"detail":{"field":"series"}}},
{"mark":{"type":"rule","color":"black","strokeWidth":1},"encoding":{"y":{"field":"lo","type":"quantitative","scale":{"domain":[0,1],"nice":false},"title":"A540"},"y2":{"field":"hi"}}},
{"mark":{"type":"tick","orient":"horizontal","color":"black","size":8,"thickness":1,"opacity":1},"encoding":{"y":{"field":"hi","type":"quantitative","scale":{"domain":[0,1],"nice":false},"title":"A540"}}},
{"mark":{"type":"tick","orient":"horizontal","color":"black","size":8,"thickness":1,"opacity":1},"encoding":{"y":{"field":"lo","type":"quantitative","scale":{"domain":[0,1],"nice":false},"title":"A540"}}},
{"mark":{"type":"point"},"encoding":{"shape":{"field":"series","type":"nominal","scale":{"domain":["Fc-scGITRL","None"],"range":["circle","circle"]},"legend":{"orient":"none","legendX":110,"legendY":41,"title":null,"symbolSize":80,"rowPadding":1,"labelOffset":13}},"fill":{"field":"series","type":"nominal","scale":{"domain":["Fc-scGITRL","None"],"range":["black","white"]},"legend":{"orient":"none","legendX":110,"legendY":41,"title":null,"symbolSize":80,"rowPadding":1,"labelOffset":13}},"stroke":{"field":"series","type":"nominal","scale":{"domain":["Fc-scGITRL","None"],"range":["black","black"]},"legend":{"orient":"none","legendX":110,"legendY":41,"title":null,"symbolSize":80,"rowPadding":1,"labelOffset":13}}}},
{"transform":[{"filter":"datum.sig==1"}],"mark":{"type":"text"},"encoding":{"y":{"field":"hi","type":"quantitative","scale":{"domain":[0,1],"nice":false},"title":"A540"}}}
]}
  ]
 }]
}
]
}
